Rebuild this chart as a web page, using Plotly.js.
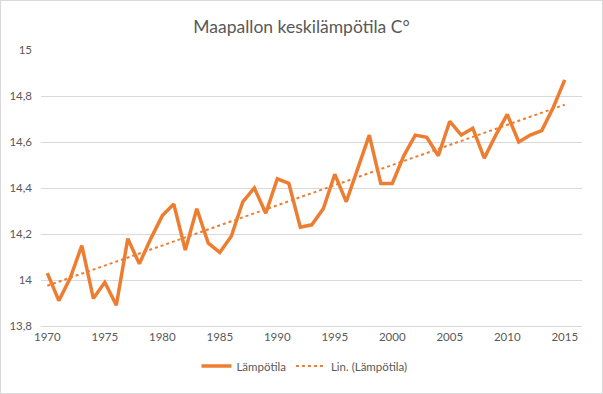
<!DOCTYPE html>
<html>
<head>
<meta charset="utf-8">
<script src="https://cdn.plot.ly/plotly-3.0.1.min.js"></script>
<style>
  html, body { margin: 0; padding: 0; background: #fff; }
  #wrap { width: 601px; height: 392px; border: 1px solid #d9d9d9; }
  #chart { width: 601px; height: 392px; }
</style>
</head>
<body>
<div id="wrap"><div id="chart"></div></div>
<script>
const years = [1970,1971,1972,1973,1974,1975,1976,1977,1978,1979,
               1980,1981,1982,1983,1984,1985,1986,1987,1988,1989,
               1990,1991,1992,1993,1994,1995,1996,1997,1998,1999,
               2000,2001,2002,2003,2004,2005,2006,2007,2008,2009,
               2010,2011,2012,2013,2014,2015];
const temps = [14.03,13.91,14.01,14.15,13.92,13.99,13.89,14.18,14.07,14.18,
               14.28,14.33,14.13,14.31,14.16,14.12,14.19,14.34,14.40,14.29,
               14.44,14.42,14.23,14.24,14.31,14.46,14.34,14.48,14.63,14.42,
               14.42,14.54,14.63,14.62,14.54,14.69,14.63,14.66,14.53,14.63,
               14.72,14.60,14.63,14.65,14.75,14.87];
const seriesName = 'Lämpötila';
const trendName = 'Lin. (Lämpötila)';
const chartTitle = 'Maapallon keskilämpötila C°';

// least-squares linear trend of the series (as Excel's linear trendline)
const n = years.length;
const mx = years.reduce((a,b)=>a+b,0)/n;
const my = temps.reduce((a,b)=>a+b,0)/n;
let sxy = 0, sxx = 0;
for (let i = 0; i < n; i++) { sxy += (years[i]-mx)*(temps[i]-my); sxx += (years[i]-mx)**2; }
const slope = sxy/sxx, icpt = my - slope*mx;
const trend = years.map(x => icpt + slope*x);

const font = 'Lato, "Open Sans", sans-serif';
const grey = '#595959';
const orange = '#ED7D31';

Plotly.newPlot('chart', [
  { x: years, y: temps, type: 'scatter', mode: 'lines', name: seriesName,
    line: { color: orange, width: 3.5 }, hoverinfo: 'skip' },
  { x: years, y: trend, type: 'scatter', mode: 'lines', name: trendName,
    line: { color: orange, width: 2, dash: 'dot' }, hoverinfo: 'skip' }
], {
  width: 601, height: 392,
  margin: { l: 40, r: 20, t: 49, b: 61 },
  paper_bgcolor: '#fff', plot_bgcolor: '#fff',
  separators: ', ',
  font: { family: font, size: 11.5, color: grey },
  title: { text: chartTitle, x: 0.5, xanchor: 'center', y: 0.935, yanchor: 'middle',
           font: { family: font, size: 17.5, color: grey } },
  xaxis: { range: [1969.45, 2016.5], tick0: 1970, dtick: 5, showgrid: false,
           zeroline: false, showline: true, linecolor: '#d9d9d9', linewidth: 1,
           ticks: '', tickfont: { size: 11.5, color: grey } },
  yaxis: { range: [13.8, 15], dtick: 0.2, tick0: 13.8, showgrid: true,
           gridcolor: '#d9d9d9', gridwidth: 1, zeroline: false, showline: false,
           ticks: '', ticklabelstandoff: 8, tickfont: { size: 11.5, color: grey } },
  showlegend: true,
  legend: { orientation: 'h', x: 0.487, xanchor: 'center', y: -0.145, yanchor: 'middle',
            font: { size: 11.5, color: grey }, bgcolor: 'rgba(0,0,0,0)' },
  hovermode: false
}, { displayModeBar: false, staticPlot: true });
</script>
</body>
</html>
